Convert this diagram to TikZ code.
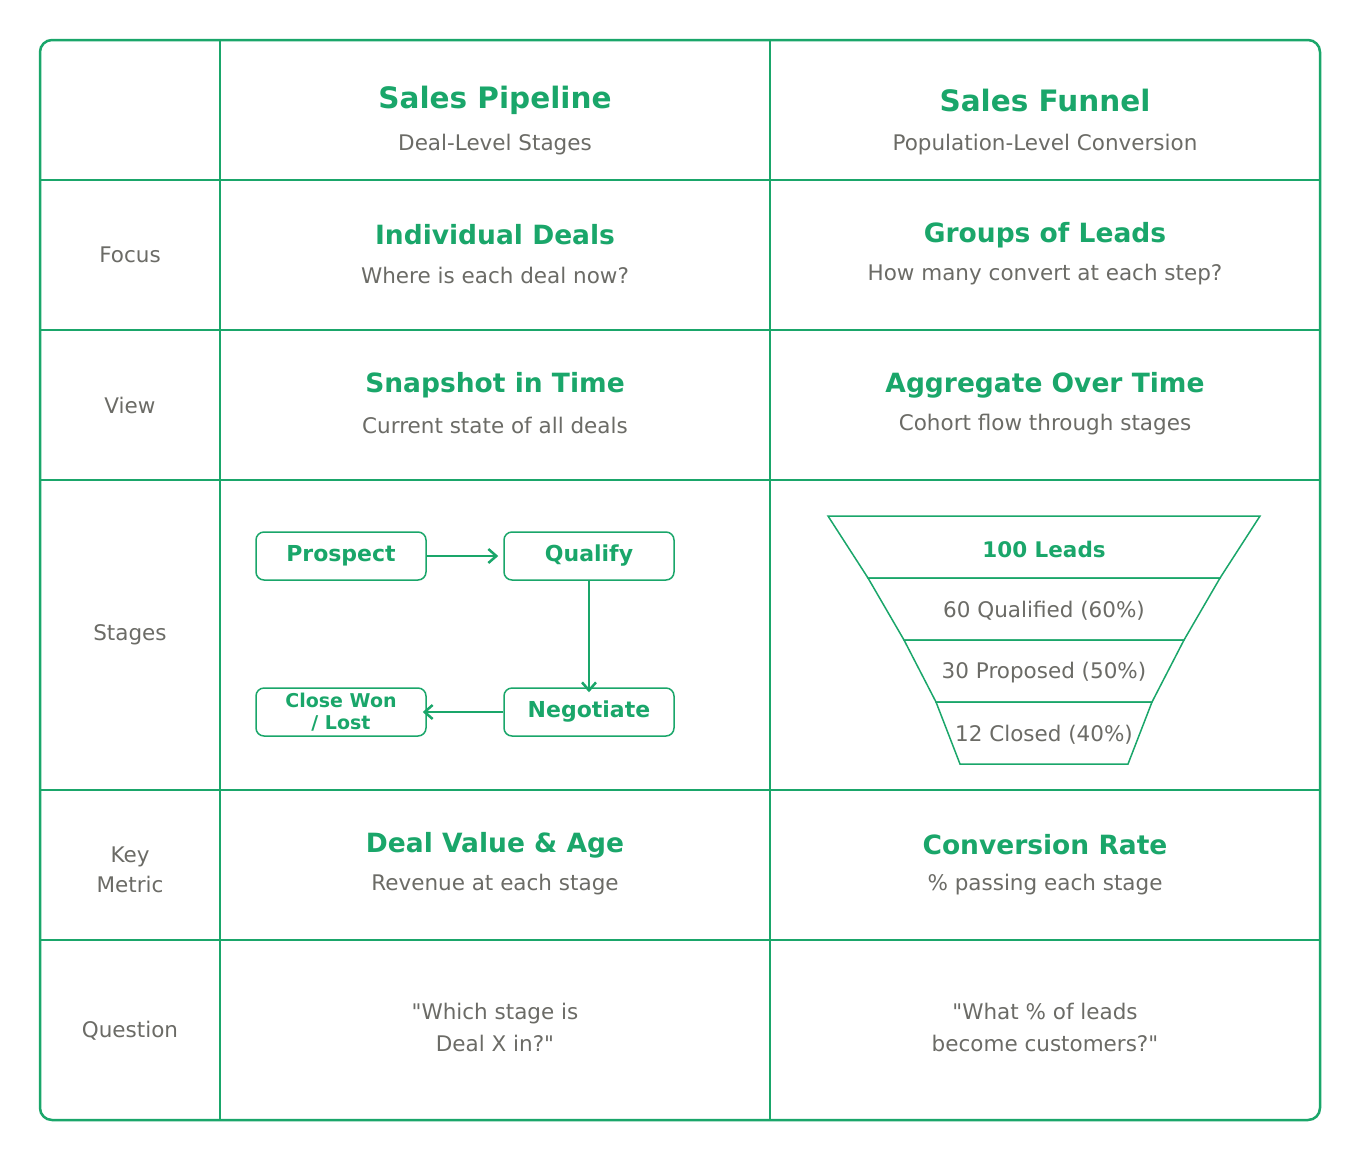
\documentclass[tikz,border=0pt]{standalone}
\usepackage{fontspec}
\setmainfont{DejaVu Sans}[Ligatures=TeXOff]
\usetikzlibrary{arrows.meta}
\definecolor{gr}{HTML}{1AA66A}
\definecolor{tx}{HTML}{6B6B66}
\tikzset{
 ttl/.style={text=gr,font=\fontsize{29.5}{34}\selectfont\bfseries},
 rttl/.style={text=gr,font=\fontsize{26.5}{30}\selectfont\bfseries},
 sub/.style={text=tx,font=\fontsize{21.5}{26}\selectfont},
 lab/.style={text=tx,font=\fontsize{21.5}{42}\selectfont,align=center},
 stepbox/.style={draw=gr,line width=1.5pt,rounded corners=8pt,minimum width=170pt,minimum height=48pt,text=gr,font=\fontsize{22}{24}\selectfont\bfseries,inner sep=0pt},
 arr/.style={draw=gr,line width=2.5pt,-{Straight Barb[length=8pt,width=14pt]}},
 gl/.style={draw=gr,line width=1.5pt},
 fseg/.style={text=tx,font=\fontsize{21.5}{26}\selectfont}
}
\begin{document}
\begin{tikzpicture}[x=1pt,y=-1pt]
\useasboundingbox (0,0) rectangle (1360,1160);
\foreach \x in {220,770} \draw[gl] (\x,40) -- (\x,1120);
\foreach \y in {180,330,480,790,940} \draw[gl] (40,\y) -- (1320,\y);
\draw[gr,line width=2.5pt,rounded corners=12pt] (40,40) rectangle (1320,1120);
\node[ttl] (h1) at (495,100) {Sales Pipeline};
\node[sub] (h1s) at (495,145) {Deal-Level Stages};
\node[ttl] (h2) at (1045,100) {Sales Funnel};
\node[sub] (h2s) at (1045,145) {Population-Level Conversion};
\node[lab] (l1) at (130,255) {Focus};
\node[lab] (l2) at (130,405) {View};
\node[lab] (l3) at (130,635) {Stages};
\node[lab,font=\fontsize{21.5}{30}\selectfont] (l4) at (130,870) {Key\\Metric};
\node[lab] (l5) at (130,1031) {Question};
\node[rttl] (a1) at (495,235) {Individual Deals};
\node[sub] (a1s) at (495,275) {Where is each deal now?};
\node[rttl] (b1) at (1045,235) {Groups of Leads};
\node[sub] (b1s) at (1045,275) {How many convert at each step?};
\node[rttl] (a2) at (495,385) {Snapshot in Time};
\node[sub] (a2s) at (495,425) {Current state of all deals};
\node[rttl] (b2) at (1045,385) {Aggregate Over Time};
\node[sub] (b2s) at (1045,425) {Cohort flow through stages};
\node[rttl] (a4) at (495,845) {Deal Value \& Age};
\node[sub] (a4s) at (495,885) {Revenue at each stage};
\node[rttl] (b4) at (1045,845) {Conversion Rate};
\node[sub] (b4s) at (1045,885) {\% passing each stage};
\node[lab,font=\fontsize{21.5}{32}\selectfont] (a5) at (495,1027) {"Which stage is\\Deal X in?"};
\node[lab,font=\fontsize{21.5}{32}\selectfont] (b5) at (1045,1027) {"What \% of leads\\become customers?"};
\node[stepbox] (p) at (341,556) {Prospect};
\node[stepbox] (q) at (589,556) {Qualify};
\node[stepbox] (n) at (589,712) {Negotiate};
\node[stepbox,font=\fontsize{19}{22}\selectfont\bfseries,align=center] (c) at (341,712) {Close Won\\/ Lost};
\draw[arr] (p.east) -- ([xshift=-5pt]q.west);
\draw[arr] (q.south) -- ([yshift=-5pt]n.north);
\draw[arr] (n.west) -- ([xshift=-4pt]c.east);
\draw[gl] (828,516) -- (1260,516) -- (1220,578) -- (868,578) -- cycle;
\draw[gl] (868,578) -- (1220,578) -- (1184,640) -- (904,640) -- cycle;
\draw[gl] (904,640) -- (1184,640) -- (1152,702) -- (936,702) -- cycle;
\draw[gl] (936,702) -- (1152,702) -- (1128,764) -- (960,764) -- cycle;
\node[text=gr,font=\fontsize{21.5}{26}\selectfont\bfseries] (f1) at (1044,549) {100 Leads};
\node[fseg] (f2) at (1044,611) {60 Qualified (60\%)};
\node[fseg] (f3) at (1044,673) {30 Proposed (50\%)};
\node[fseg] (f4) at (1044,735) {12 Closed (40\%)};
\end{tikzpicture}
\end{document}
